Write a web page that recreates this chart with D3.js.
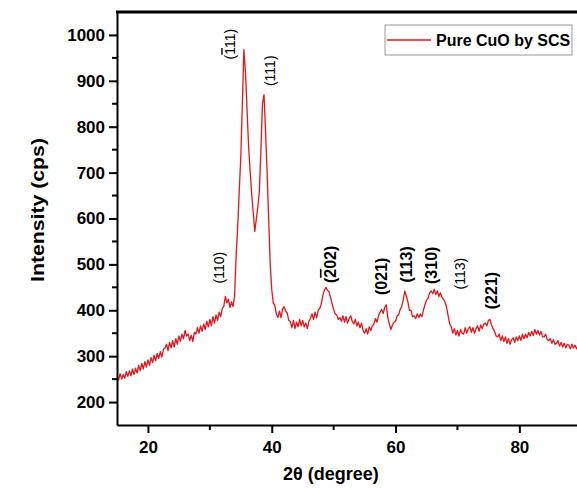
<!DOCTYPE html>
<html>
<head>
<meta charset="utf-8">
<script src="https://cdn.jsdelivr.net/npm/d3@7"></script>
<style>
  body { margin: 0; background: #fff; }
  svg { display: block; font-family: "Liberation Sans", Arial, sans-serif; }
  .ax text { font-weight: bold; font-size: 17px; fill: #000; }
  .ax path, .ax line { stroke: #000; stroke-width: 2px; }
</style>
</head>
<body>
<svg id="chart"></svg>
<script>
// XRD pattern, one value every 0.25 degree from 15
const twoThetaStart = 15;
const twoThetaStep = 0.25;
const intensity = [
  258, 248, 262, 250,  260, 252, 266, 256,  268, 257, 272, 260,  274, 263, 280, 268,
  284, 272, 288, 276,  292, 280, 297, 286,  302, 290, 306, 295,  310, 298, 315, 318,
  326, 312, 330, 318,  334, 320, 338, 326,  344, 332, 348, 338,  356, 344, 348, 334,
  346, 332, 352, 348,  362, 350, 366, 354,  370, 358, 376, 364,  380, 366, 386, 372,
  390, 378, 396, 386,  404, 408, 430, 416,  424, 406, 418, 408,  432, 520, 583, 660,
  735, 850, 968, 920,  840, 760, 705, 655,  615, 572, 598, 625,  660, 750, 850, 870,
  790, 700, 600, 500,  445, 416, 410, 392,  384, 398, 384, 402,  408, 398, 394, 378,
  376, 362, 378, 360,  374, 364, 380, 366,  378, 364, 372, 360,  376, 382, 392, 380,
  396, 384, 400, 404,  414, 432, 444, 450,  444, 440, 428, 414,  402, 392, 390, 380,
  384, 376, 388, 374,  386, 372, 382, 388,  376, 370, 380, 366,  374, 362, 372, 356,
  350, 360, 348, 364,  356, 366, 370, 382,  374, 388, 396, 402,  393, 406, 412, 384,
  370, 358, 368, 374,  376, 388, 390, 402,  408, 424, 442, 430,  418, 400, 400, 386,
  388, 382, 392, 384,  392, 386, 400, 412,  422, 426, 438, 442,  436, 446, 434, 442,
  430, 438, 428, 424,  418, 406, 388, 370,  364, 350, 360, 346,  356, 344, 358, 350,
  348, 362, 350, 360,  364, 352, 362, 350,  360, 366, 354, 368,  360, 370, 372, 366,
  378, 380, 368, 360,  354, 344, 342, 348,  334, 344, 332, 342,  328, 338, 326, 336,
  340, 330, 342, 334,  344, 334, 348, 338,  348, 340, 352, 344,  354, 345, 358, 348,
  356, 346, 354, 342,  342, 348, 336, 334,  338, 328, 336, 326,  328, 334, 322, 330,
  320, 328, 318, 326,  324, 316, 326, 318,  324, 316, 322
];

const xMajorTicks = [20, 40, 60, 80];
const xMinorTicks = [30, 50, 70, 90];
const yMajorTicks = [200, 300, 400, 500, 600, 700, 800, 900, 1000];
const yMinorTicks = [250, 350, 450, 550, 650, 750, 850, 950];

// Miller indices: [text before bar, barred digit, text after], label spot in data units
const peakHkl = [["(", "", "110)"], ["(", "1", "11)"], ["(", "", "111)"], ["(", "2", "02)"],
                 ["(", "", "021)"], ["(", "", "113)"], ["(", "", "310)"], ["(", "", "113)"], ["(", "", "221)"]];
const peakTwoTheta = [31.5, 33.3, 39.7, 49.4, 57.7, 61.7, 65.7, 70.4, 75.4];
const peakLabelY = [493, 980, 922, 500, 474, 500, 498, 480, 443];
const peakBold = [false, false, false, true, true, true, true, false, true];

const seriesName = "Pure CuO by SCS";

const W = 577, H = 488;
const mLeft = 117, mTop = 12, mBottom = 425;

const data = intensity.map((v, i) => ({ x: twoThetaStart + i * twoThetaStep, y: v }));

const x = d3.scaleLinear().domain([15, 90]).range([mLeft, mLeft + 6.19 * 75]);
const y = d3.scaleLinear().domain([150, 1050]).range([mBottom, mTop]);

const svg = d3.select("#chart").attr("width", W).attr("height", H);

svg.append("clipPath").attr("id", "plot")
  .append("rect").attr("x", mLeft).attr("y", mTop).attr("width", W - mLeft).attr("height", mBottom - mTop);

// curve
svg.append("path")
  .datum(data)
  .attr("clip-path", "url(#plot)")
  .attr("fill", "none")
  .attr("stroke", "#e4161b")
  .attr("stroke-width", 1.3)
  .attr("stroke-linejoin", "round")
  .attr("d", d3.line().x(d => x(d.x)).y(d => y(d.y)));

// axes
const xAxis = svg.append("g").attr("class", "ax")
  .attr("transform", `translate(0,${mBottom})`)
  .call(d3.axisBottom(x).tickValues(xMajorTicks).tickFormat(d3.format("d"))
    .tickSize(8).tickSizeOuter(0).tickPadding(8));
xAxis.selectAll(".minor").data(xMinorTicks).enter().append("line")
  .attr("class", "minor")
  .attr("x1", d => x(d)).attr("x2", d => x(d)).attr("y1", 0).attr("y2", 5);

const yAxis = svg.append("g").attr("class", "ax")
  .attr("transform", `translate(${mLeft},0)`)
  .call(d3.axisLeft(y).tickValues(yMajorTicks).tickFormat(d3.format("d"))
    .tickSize(8).tickSizeOuter(0).tickPadding(4));
yAxis.selectAll(".minor").data(yMinorTicks).enter().append("line")
  .attr("class", "minor")
  .attr("y1", d => y(d)).attr("y2", d => y(d)).attr("x1", 0).attr("x2", -5);

// top frame line
svg.append("line")
  .attr("x1", mLeft - 1).attr("x2", W).attr("y1", mTop).attr("y2", mTop)
  .attr("stroke", "#000").attr("stroke-width", 3);

// axis titles
svg.append("text")
  .attr("x", 331).attr("y", 480)
  .attr("text-anchor", "middle")
  .attr("font-weight", "bold").attr("font-size", 18)
  .text("2\u03b8 (degree)");

svg.append("text")
  .attr("transform", "translate(44,210) rotate(-90)")
  .attr("text-anchor", "middle")
  .attr("font-weight", "bold").attr("font-size", 18)
  .attr("textLength", 144).attr("lengthAdjust", "spacingAndGlyphs")
  .text("Intensity (cps)");

// peak labels
peakHkl.forEach((p, i) => {
  const t = svg.append("text")
    .attr("transform", `translate(${x(peakTwoTheta[i])},${y(peakLabelY[i])}) rotate(-90)`)
    .attr("text-anchor", "middle")
    .attr("dominant-baseline", "central")
    .attr("font-size", peakBold[i] ? 16 : 14)
    .attr("font-weight", peakBold[i] ? "bold" : "normal");
  t.append("tspan").text(p[0]);
  if (p[1]) t.append("tspan").style("text-decoration", "overline").text(p[1]);
  t.append("tspan").text(p[2]);
});

// legend
const legend = svg.append("g").attr("transform", "translate(385,25)");
legend.append("rect")
  .attr("width", 187).attr("height", 30)
  .attr("fill", "#fff").attr("stroke", "#999").attr("stroke-width", 1);
legend.append("line")
  .attr("x1", 2).attr("x2", 46).attr("y1", 15).attr("y2", 15)
  .attr("stroke", "#e4161b").attr("stroke-width", 1.5);
legend.append("text")
  .attr("x", 51).attr("y", 21)
  .attr("font-weight", "bold").attr("font-size", 16)
  .text(seriesName);
</script>
</body>
</html>
